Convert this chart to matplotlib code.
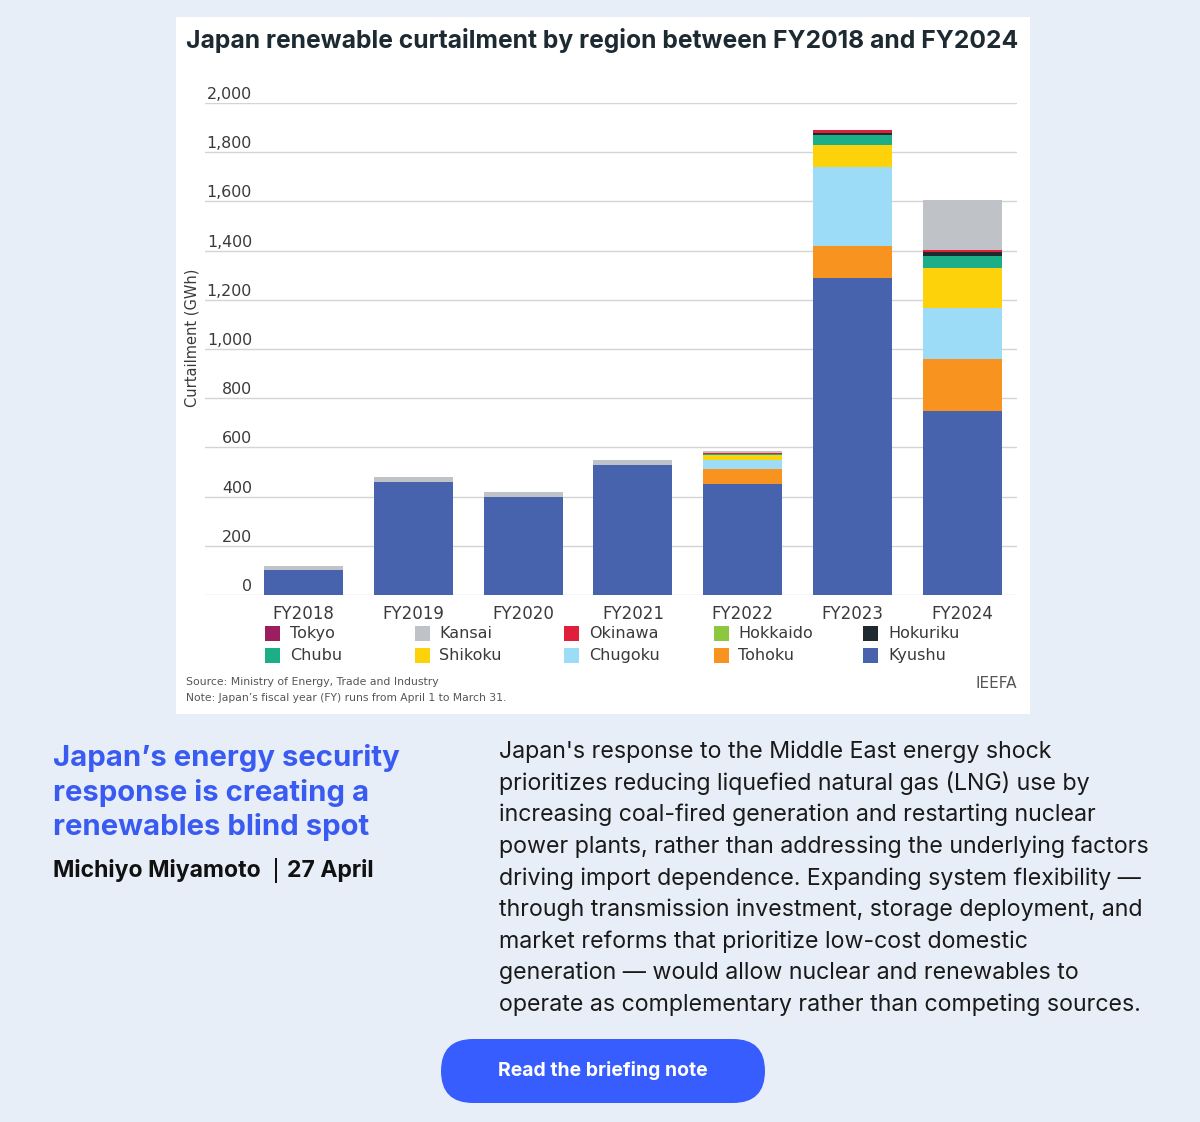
import matplotlib
matplotlib.use("Agg")
import matplotlib.pyplot as plt
from matplotlib.patches import Rectangle, FancyBboxPatch
from matplotlib.transforms import ScaledTranslation
import numpy as np

# ---------------- data ----------------
years = ["FY2018", "FY2019", "FY2020", "FY2021", "FY2022", "FY2023", "FY2024"]
# stacking order bottom -> top
regions = ["Kyushu", "Tohoku", "Chugoku", "Shikoku", "Chubu", "Hokuriku",
           "Hokkaido", "Okinawa", "Kansai", "Tokyo"]
kyushu   = [100, 460, 400, 528, 451, 1290, 748]
tohoku   = [0, 0, 0, 0, 62, 130, 211]
chugoku  = [0, 0, 0, 0, 35, 318, 209]
shikoku  = [0, 0, 0, 0, 22, 92, 160]
chubu    = [0, 0, 0, 0, 3, 38, 51]
hokuriku = [0, 0, 0, 0, 1, 10, 15]
hokkaido = [0, 0, 0, 0, 0, 0, 0]
okinawa  = [0, 0, 0, 0, 2, 13, 10]
kansai   = [18, 20, 20, 20, 10, 0, 202]
tokyo    = [0, 0, 0, 0, 0, 0, 0]
series = [kyushu, tohoku, chugoku, shikoku, chubu, hokuriku,
          hokkaido, okinawa, kansai, tokyo]
colors = {"Tokyo": "#9B1F5E", "Kansai": "#BFC3C7", "Okinawa": "#E01F3A",
          "Hokkaido": "#8DC63F", "Hokuriku": "#1E2A30", "Chubu": "#1BAE87",
          "Shikoku": "#FDD20A", "Chugoku": "#9CDCF7", "Tohoku": "#F7931E",
          "Kyushu": "#4863AD"}
legend_rows = [["Tokyo", "Kansai", "Okinawa", "Hokkaido", "Hokuriku"],
               ["Chubu", "Shikoku", "Chugoku", "Tohoku", "Kyushu"]]
yticks = [0, 200, 400, 600, 800, 1000, 1200, 1400, 1600, 1800, 2000]

title = "Japan renewable curtailment by region between FY2018 and FY2024"
ylabel = "Curtailment (GWh)"
source1 = "Source: Ministry of Energy, Trade and Industry"
source2 = "Note: Japan\u2019s fiscal year (FY) runs from April 1 to March 31."
heading = ["Japan\u2019s energy security", "response is creating a", "renewables blind spot"]
author = "Michiyo Miyamoto"
date = "27 April"
body = ["Japan's response to the Middle East energy shock",
        "prioritizes reducing liquefied natural gas (LNG) use by",
        "increasing coal-fired generation and restarting nuclear",
        "power plants, rather than addressing the underlying factors",
        "driving import dependence. Expanding system flexibility \u2014",
        "through transmission investment, storage deployment, and",
        "market reforms that prioritize low-cost domestic",
        "generation \u2014 would allow nuclear and renewables to",
        "operate as complementary rather than competing sources."]
button = "Read the briefing note"

# ---------------- layout ----------------
W, H = 1200, 1122
BG = "#E8EEF7"
fig = plt.figure(figsize=(W / 100, H / 100), dpi=100, facecolor=BG)
renderer = fig.canvas.get_renderer()


def fx(x):
    return x / W


def fy(y):
    return 1 - y / H


# background overlay axes in pixel coordinates
bg = fig.add_axes([0, 0, 1, 1], zorder=0)
bg.set_xlim(0, W)
bg.set_ylim(H, 0)
bg.axis("off")
bg.add_patch(Rectangle((176, 17), 1030 - 176, 714 - 17, facecolor="white", edgecolor="none"))
bg.add_patch(FancyBboxPatch((441, 1039), 765 - 441, 1103 - 1039,
                            boxstyle="round,pad=0,rounding_size=32",
                            facecolor="#375DFF", edgecolor="none"))
bg.add_patch(Rectangle((275, 858), 2, 25, facecolor="#111111", edgecolor="none"))


def fit_text(x, y, s, target_w, base=12, **kw):
    t = bg.text(x, y, s, fontsize=base, **kw)
    w = t.get_window_extent(renderer).width
    t.set_fontsize(base * target_w / w)
    return t


# chart axes
ax = fig.add_axes([fx(205), fy(595), fx(1017) - fx(205), fy(103) - fy(595)], zorder=2)
ax.set_facecolor("none")
x = np.arange(len(years))
bottom = np.zeros(len(years))
for name, vals in zip(regions, series):
    vals = np.array(vals, dtype=float)
    ax.bar(x, vals, bottom=bottom, width=0.72, color=colors[name],
           edgecolor="none", zorder=3)
    bottom += vals

ax.set_xlim(-0.9, 6.5)
ax.set_ylim(0, 2000)
ax.set_yticks(yticks)
ax.set_yticklabels([f"{v:,}" for v in yticks])
ax.yaxis.grid(True, color="#D4D4D4", linewidth=1.0, zorder=0)
ax.set_xticks(x)
ax.set_xticklabels(years)
for s in ax.spines.values():
    s.set_visible(False)
ax.tick_params(axis="y", length=0, pad=-47 * 0.72, labelsize=11.4, labelcolor="#3A3A3A")
ax.tick_params(axis="x", length=0, pad=7, labelsize=12, labelcolor="#3A3A3A")
for lab in ax.get_yticklabels():
    lab.set_horizontalalignment("right")
    lab.set_verticalalignment("bottom")
    lab.set_transform(lab.get_transform() + ScaledTranslation(0, 1 / 100, fig.dpi_scale_trans))
ax.set_axisbelow(True)

bg.text(192, 338, ylabel, rotation=90, ha="center", va="center",
        fontsize=10.5, color="#3A3A3A")

# title
fit_text(186, 40, title, 831, base=18, fontweight="bold", color="#1E2A32",
         va="center", ha="left", family="Inter")

# legend (manual, row-major grid)
col_x = [265, 414.5, 564, 713.5, 863]
row_y = [633, 655]
for r, row in enumerate(legend_rows):
    for c, name in enumerate(row):
        bg.add_patch(Rectangle((col_x[c], row_y[r] - 7.5), 15, 15,
                               facecolor=colors[name], edgecolor="none"))
        bg.text(col_x[c] + 25, row_y[r], name, fontsize=11.5,
                color="#3A3A3A", va="center", ha="left")

# sources
fit_text(186, 682, source1, 253, base=8, color="#555555", va="center", ha="left")
fit_text(186, 698, source2, 320, base=8, color="#555555", va="center", ha="left")
bg.text(1017, 683, "IEEFA", fontsize=11, color="#555555", va="center", ha="right")

# heading
hfs = None
for i, line in enumerate(heading):
    t = bg.text(53, 758 + i * 34.5, line, fontsize=22, fontweight="bold",
                color="#3A5BF2", va="center", ha="left", family="Inter")
    if i == 0:
        w = t.get_window_extent(renderer).width
        hfs = 22 * 346 / w
    t.set_fontsize(hfs)

fit_text(53, 870, author, 208, base=16, fontweight="bold", color="#111111",
         va="center", ha="left", family="Inter")
fit_text(287, 870, date, 87, base=16, fontweight="bold", color="#111111",
         va="center", ha="left", family="Inter")

# body
t0 = bg.text(499, 752, body[3], fontsize=16, family="Inter")
bw = t0.get_window_extent(renderer).width
bfs = 16 * 653 / bw
t0.remove()
for i, line in enumerate(body):
    bg.text(499, 752 + i * 31.6, line, fontsize=bfs, color="#1A1A1A",
            va="center", ha="left", family="Inter")

# button text
fit_text(603, 1071, button, 210, base=14, fontweight="bold", color="white",
         va="center", ha="center", family="Inter")

fig.savefig("out.png", dpi=100, facecolor=BG)
